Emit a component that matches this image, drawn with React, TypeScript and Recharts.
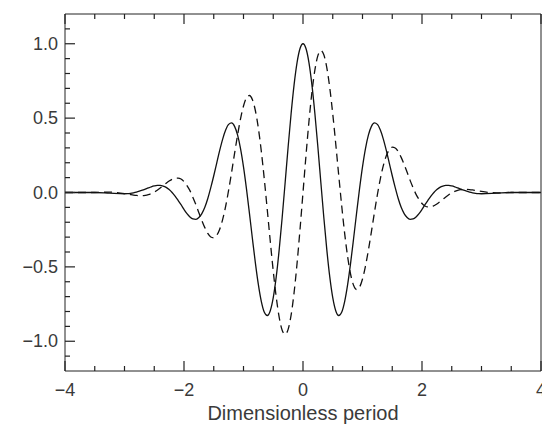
import { LineChart, Line, XAxis, YAxis } from "recharts";

const periods = [
  -4, -3.75, -3.5, -3.25,
  -3, -2.95, -2.9, -2.85, -2.8, -2.75, -2.7, -2.65, -2.6, -2.55,
  -2.5, -2.45, -2.4, -2.35, -2.3, -2.25, -2.2, -2.15, -2.1, -2.05,
  -2, -1.95, -1.9, -1.85, -1.8, -1.75, -1.7, -1.65, -1.6, -1.55,
  -1.5, -1.45, -1.4, -1.35, -1.3, -1.25, -1.2, -1.15, -1.1, -1.05,
  -1, -0.95, -0.9, -0.85, -0.8, -0.75, -0.7, -0.65, -0.6, -0.55,
  -0.5, -0.45, -0.4, -0.35, -0.3, -0.25, -0.2, -0.15, -0.1, -0.05,
  0,
  0.05, 0.1, 0.15, 0.2, 0.25, 0.3, 0.35, 0.4, 0.45, 0.5,
  0.55, 0.6, 0.65, 0.7, 0.75, 0.8, 0.85, 0.9, 0.95, 1,
  1.05, 1.1, 1.15, 1.2, 1.25, 1.3, 1.35, 1.4, 1.45, 1.5,
  1.55, 1.6, 1.65, 1.7, 1.75, 1.8, 1.85, 1.9, 1.95, 2,
  2.05, 2.1, 2.15, 2.2, 2.25, 2.3, 2.35, 2.4, 2.45, 2.5,
  2.55, 2.6, 2.65, 2.7, 2.75, 2.8, 2.85, 2.9, 2.95, 3,
  3.25, 3.5, 3.75, 4,
];

// solid curve
const realPart = [
  0, 0, 0, -0.0044,
  -0.0084, -0.0074, -0.0053, -0.0019, 0.0027, 0.0086, 0.0155, 0.0231, 0.0309, 0.0381,
  0.0438, 0.0473, 0.0474, 0.0433, 0.0345, 0.02, 0.0004, -0.0241, -0.0524, -0.0821,
  -0.1136, -0.142, -0.164, -0.1776, -0.1803, -0.1684, -0.1419, -0.0996, -0.0405, 0.0325,
  0.1125, 0.1981, 0.2829, 0.359, 0.4195, 0.4578, 0.4674, 0.4445, 0.387, 0.2951,
  0.172, 0.0239, -0.1406, -0.3109, -0.4746, -0.6194, -0.733, -0.8048, -0.8269, -0.7946,
  -0.707, -0.5677, -0.3842, -0.1677, 0.0676, 0.3056, 0.5296, 0.7235, 0.8732, 0.9677,
  1,
  0.9677, 0.8732, 0.7235, 0.5296, 0.3056, 0.0676, -0.1677, -0.3842, -0.5677, -0.707,
  -0.7946, -0.8269, -0.8048, -0.733, -0.6194, -0.4746, -0.3109, -0.1406, 0.0239, 0.172,
  0.2951, 0.387, 0.4445, 0.4674, 0.4578, 0.4195, 0.359, 0.2829, 0.1981, 0.1125,
  0.0325, -0.0405, -0.0996, -0.1419, -0.1684, -0.1803, -0.1776, -0.164, -0.142, -0.1136,
  -0.0821, -0.0524, -0.0241, 0.0004, 0.02, 0.0345, 0.0433, 0.0474, 0.0473, 0.0438,
  0.0381, 0.0309, 0.0231, 0.0155, 0.0086, 0.0027, -0.0019, -0.0053, -0.0074, -0.0084,
  -0.0044, 0, 0, 0,
];

// dashed curve
const imagPart = [
  0, 0, 0, 0.0026,
  -0.0072, -0.0105, -0.0139, -0.0171, -0.0197, -0.0211, -0.021, -0.0189, -0.0143, -0.0071,
  0.0029, 0.0155, 0.0301, 0.046, 0.0621, 0.077, 0.0889, 0.0962, 0.097, 0.0906,
  0.0736, 0.0465, 0.0124, -0.0329, -0.0816, -0.1356, -0.1882, -0.2362, -0.2751, -0.2991,
  -0.3045, -0.2879, -0.2466, -0.1809, -0.0924, 0.0152, 0.136, 0.2625, 0.3853, 0.4949,
  0.5816, 0.6364, 0.652, 0.6236, 0.5496, 0.4314, 0.2746, 0.0876, -0.1179, -0.3281,
  -0.5282, -0.7031, -0.8394, -0.9255, -0.9536, -0.9198, -0.8248, -0.674, -0.477, -0.2471,
  0,
  0.2471, 0.477, 0.674, 0.8248, 0.9198, 0.9536, 0.9255, 0.8394, 0.7031, 0.5282,
  0.3281, 0.1179, -0.0876, -0.2746, -0.4314, -0.5496, -0.6236, -0.652, -0.6364, -0.5816,
  -0.4949, -0.3853, -0.2625, -0.136, -0.0152, 0.0924, 0.1809, 0.2466, 0.2879, 0.3045,
  0.2991, 0.2751, 0.2362, 0.1882, 0.1356, 0.0816, 0.0329, -0.0124, -0.0465, -0.0736,
  -0.0906, -0.097, -0.0962, -0.0889, -0.077, -0.0621, -0.046, -0.0301, -0.0155, -0.0029,
  0.0071, 0.0143, 0.0189, 0.021, 0.0211, 0.0197, 0.0171, 0.0139, 0.0105, 0.0072,
  -0.0026, 0, 0, 0,
];

const xTicks = [-4, -3.5, -3, -2.5, -2, -1.5, -1, -0.5, 0, 0.5, 1, 1.5, 2, 2.5, 3, 3.5, 4];
const yTicks = [
  -1.1, -1, -0.9, -0.8, -0.7, -0.6, -0.5, -0.4, -0.3, -0.2, -0.1,
  0, 0.1, 0.2, 0.3, 0.4, 0.5, 0.6, 0.7, 0.8, 0.9, 1, 1.1,
];

const data = periods.map((t, k) => ({ t, re: realPart[k], im: imagPart[k] }));

const TICK = "#222";
const TEXT = "#3a3a3a";
const FONT = "'Liberation Sans', Arial, sans-serif";

const isMajorX = (v: number) => Math.abs(v / 2 - Math.round(v / 2)) < 1e-6;
const isMajorY = (v: number) => Math.abs(v * 2 - Math.round(v * 2)) < 1e-6;
const minus = (s: string) => s.replace("-", "\u2212");

// inward tick marks, IDL style
function BottomTick(props: any) {
  const { x, y, payload } = props;
  const major = isMajorX(payload.value);
  return (
    <g>
      <line x1={x} y1={y} x2={x} y2={y - (major ? 10 : 5)} stroke={TICK} strokeWidth={1.2} />
      {major && (
        <text x={x} y={y + 25} textAnchor="middle" fill={TEXT} fontSize={18} fontFamily={FONT}>
          {minus(String(payload.value))}
        </text>
      )}
    </g>
  );
}

function TopTick(props: any) {
  const { x, y, payload } = props;
  const major = isMajorX(payload.value);
  return <line x1={x} y1={y} x2={x} y2={y + (major ? 10 : 5)} stroke={TICK} strokeWidth={1.2} />;
}

function LeftTick(props: any) {
  const { x, y, payload } = props;
  const major = isMajorY(payload.value);
  return (
    <g>
      <line x1={x} y1={y} x2={x + (major ? 10 : 5)} y2={y} stroke={TICK} strokeWidth={1.2} />
      {major && (
        <text x={x - 7} y={y + 6} textAnchor="end" fill={TEXT} fontSize={18} fontFamily={FONT}>
          {minus(payload.value.toFixed(1))}
        </text>
      )}
    </g>
  );
}

function RightTick(props: any) {
  const { x, y, payload } = props;
  const major = isMajorY(payload.value);
  return <line x1={x} y1={y} x2={x - (major ? 10 : 5)} y2={y} stroke={TICK} strokeWidth={1.2} />;
}

export default function App() {
  return (
    <LineChart width={542} height={416} data={data} margin={{ top: 5, right: 8, bottom: 0, left: 0 }}>
      <XAxis
        dataKey="t"
        type="number"
        domain={[-4, 4]}
        ticks={xTicks}
        interval={0}
        tickSize={0}
        tickMargin={0}
        tickLine={false}
        tick={<BottomTick />}
        height={53}
        stroke="#222"
        label={{
          value: "Dimensionless period",
          position: "insideBottom",
          offset: 4,
          style: { fill: TEXT, fontSize: 20, fontFamily: FONT },
        }}
      />
      <XAxis
        xAxisId="top"
        orientation="top"
        dataKey="t"
        type="number"
        domain={[-4, 4]}
        ticks={xTicks}
        interval={0}
        tickSize={0}
        tickMargin={0}
        tickLine={false}
        tick={<TopTick />}
        height={1}
        stroke="#222"
      />
      <YAxis
        type="number"
        domain={[-1.2, 1.2]}
        ticks={yTicks}
        interval={0}
        tickSize={0}
        tickMargin={0}
        tickLine={false}
        tick={<LeftTick />}
        width={57}
        stroke="#222"
      />
      <YAxis
        yAxisId="right"
        orientation="right"
        type="number"
        domain={[-1.2, 1.2]}
        ticks={yTicks}
        interval={0}
        tickSize={0}
        tickMargin={0}
        tickLine={false}
        tick={<RightTick />}
        width={1}
        stroke="#222"
      />
      <Line
        type="monotone"
        dataKey="re"
        stroke="#111"
        strokeWidth={1.3}
        dot={false}
        isAnimationActive={false}
      />
      <Line
        type="monotone"
        dataKey="im"
        stroke="#111"
        strokeWidth={1.3}
        strokeDasharray="8 5"
        dot={false}
        isAnimationActive={false}
      />
    </LineChart>
  );
}
